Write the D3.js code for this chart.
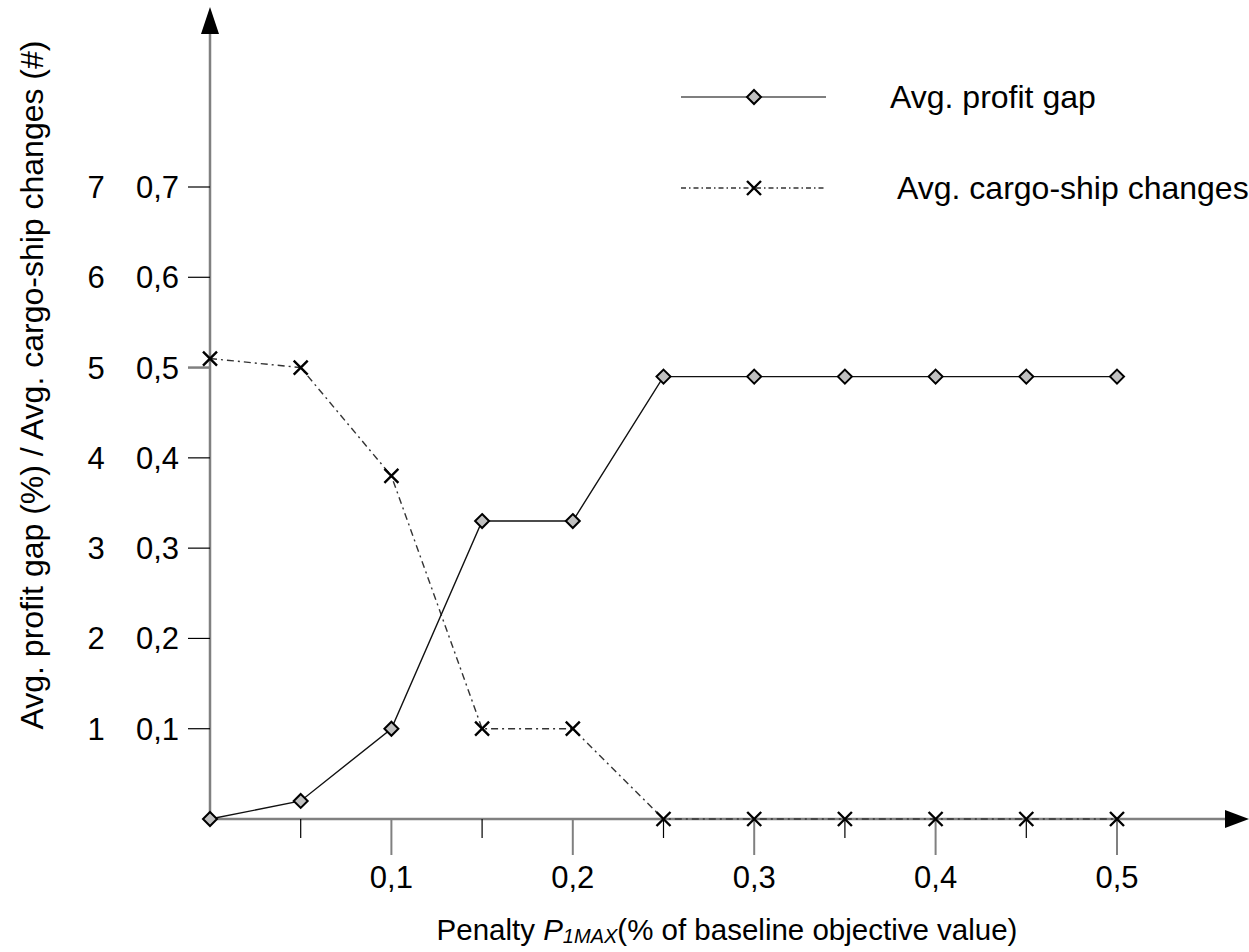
<!DOCTYPE html>
<html>
<head>
<meta charset="utf-8">
<script src="https://cdn.jsdelivr.net/npm/d3@7"></script>
<style>
  body { margin: 0; background: #fff; }
  svg { display: block; font-family: "Liberation Sans", Arial, sans-serif; }
</style>
</head>
<body>
<div id="chart"></div>
<script>
// penalty values on the x axis
const penalty = [0, 0.05, 0.1, 0.15, 0.2, 0.25, 0.3, 0.35, 0.4, 0.45, 0.5];
// avg. profit gap (%)
const profitGap = [0, 0.02, 0.1, 0.33, 0.33, 0.49, 0.49, 0.49, 0.49, 0.49, 0.49];
// avg. cargo-ship changes (#)
const cargoChanges = [5.1, 5.0, 3.8, 1.0, 1.0, 0, 0, 0, 0, 0, 0];

const xTickMajor = [0.1, 0.2, 0.3, 0.4, 0.5];
const xTickMinor = [0.05, 0.15, 0.25, 0.35, 0.45];
const yTicks = [0.1, 0.2, 0.3, 0.4, 0.5, 0.6, 0.7];
const yTicksCount = [1, 2, 3, 4, 5, 6, 7];

const W = 1249, H = 952;
const svg = d3.select('#chart').append('svg').attr('width', W).attr('height', H);

const x = d3.scaleLinear().domain([0, 0.5]).range([210, 1117]);
const y = d3.scaleLinear().domain([0, 0.7]).range([819, 187]);
const yCount = d3.scaleLinear().domain([0, 7]).range([819, 187]);

const fmt = (v) => d3.format('.1f')(v).replace('.', ',');

// axes lines
const axisColor = '#808080';
svg.append('line').attr('x1', 210).attr('x2', 1228).attr('y1', 819).attr('y2', 819)
  .attr('stroke', axisColor).attr('stroke-width', 2.5);
svg.append('line').attr('x1', 210).attr('x2', 210).attr('y1', 819).attr('y2', 30)
  .attr('stroke', axisColor).attr('stroke-width', 2.5);
// arrows
svg.append('path').attr('d', 'M210,7 L201,34 L219,34 Z').attr('fill', '#000');
svg.append('path').attr('d', 'M1249,819 L1225,810 L1225,828 Z').attr('fill', '#000');

// x ticks
svg.selectAll('.xmaj').data(xTickMajor).join('line')
  .attr('x1', (d) => x(d)).attr('x2', (d) => x(d)).attr('y1', 819).attr('y2', 855)
  .attr('stroke', axisColor).attr('stroke-width', 2);
svg.selectAll('.xmin').data(xTickMinor).join('line')
  .attr('x1', (d) => x(d)).attr('x2', (d) => x(d)).attr('y1', 819).attr('y2', 838)
  .attr('stroke', '#000').attr('stroke-width', 1.2);
svg.selectAll('.xlab').data(xTickMajor).join('text')
  .attr('x', (d) => x(d)).attr('y', 888).attr('text-anchor', 'middle')
  .attr('font-size', 31).text(fmt);

// y ticks
svg.selectAll('.ytick').data(yTicks).join('line')
  .attr('x1', 188).attr('x2', 210).attr('y1', (d) => y(d)).attr('y2', (d) => y(d))
  .attr('stroke', (d) => (d === 0.5 ? axisColor : '#000'))
  .attr('stroke-width', (d) => (d === 0.5 ? 2.5 : 1.2));
svg.selectAll('.ylab').data(yTicks).join('text')
  .attr('x', 179).attr('y', (d) => y(d) + 11).attr('text-anchor', 'end')
  .attr('font-size', 31).text(fmt);
svg.selectAll('.ylab2').data(yTicksCount).join('text')
  .attr('x', 96).attr('y', (d) => yCount(d) + 11).attr('text-anchor', 'middle')
  .attr('font-size', 31).text((d) => d);

// axis titles
svg.append('text')
  .attr('transform', 'translate(43,385) rotate(-90)')
  .attr('text-anchor', 'middle').attr('font-size', 32)
  .text('Avg. profit gap (%) / Avg. cargo-ship changes (#)');

const xt = svg.append('text').attr('x', 727).attr('y', 940)
  .attr('text-anchor', 'middle').attr('font-size', 29.5);
xt.append('tspan').text('Penalty ');
xt.append('tspan').attr('font-style', 'italic').text('P');
xt.append('tspan').attr('font-style', 'italic').attr('font-size', 20).attr('dy', 3).text('1MAX');
xt.append('tspan').attr('dy', -3).text('(% of baseline objective value)');

// series
const profitPts = penalty.map((p, i) => [x(p), y(profitGap[i])]);
const cargoPts = penalty.map((p, i) => [x(p), yCount(cargoChanges[i])]);
const line = d3.line();
const dashDot = '7,4,2,4';

svg.append('path').attr('d', line(cargoPts)).attr('fill', 'none')
  .attr('stroke', '#333').attr('stroke-width', 1.4).attr('stroke-dasharray', dashDot);
svg.append('path').attr('d', line(profitPts)).attr('fill', 'none')
  .attr('stroke', '#111').attr('stroke-width', 1.4);

const diamond = (g, cx, cy) => g.append('path')
  .attr('d', `M${cx},${cy - 7} L${cx + 7},${cy} L${cx},${cy + 7} L${cx - 7},${cy} Z`)
  .attr('fill', '#c0c0c0').attr('stroke', '#000').attr('stroke-width', 2);
const cross = (g, cx, cy) => g.append('path')
  .attr('d', `M${cx - 7},${cy - 7} L${cx + 7},${cy + 7} M${cx - 7},${cy + 7} L${cx + 7},${cy - 7}`)
  .attr('stroke', '#000').attr('stroke-width', 2.4).attr('fill', 'none');

cargoPts.forEach(([cx, cy]) => cross(svg, cx, cy));
profitPts.forEach(([cx, cy]) => diamond(svg, cx, cy));

// legend
svg.append('line').attr('x1', 681).attr('x2', 826).attr('y1', 97).attr('y2', 97)
  .attr('stroke', '#555').attr('stroke-width', 1.5);
diamond(svg, 754, 97);
svg.append('text').attr('x', 890).attr('y', 108).attr('font-size', 32).text('Avg. profit gap');

svg.append('line').attr('x1', 681).attr('x2', 826).attr('y1', 188).attr('y2', 188)
  .attr('stroke', '#333').attr('stroke-width', 1.3).attr('stroke-dasharray', '5,3,1.5,3');
cross(svg, 754, 188);
svg.append('text').attr('x', 897).attr('y', 199).attr('font-size', 32).text('Avg. cargo-ship changes');
</script>
</body>
</html>
